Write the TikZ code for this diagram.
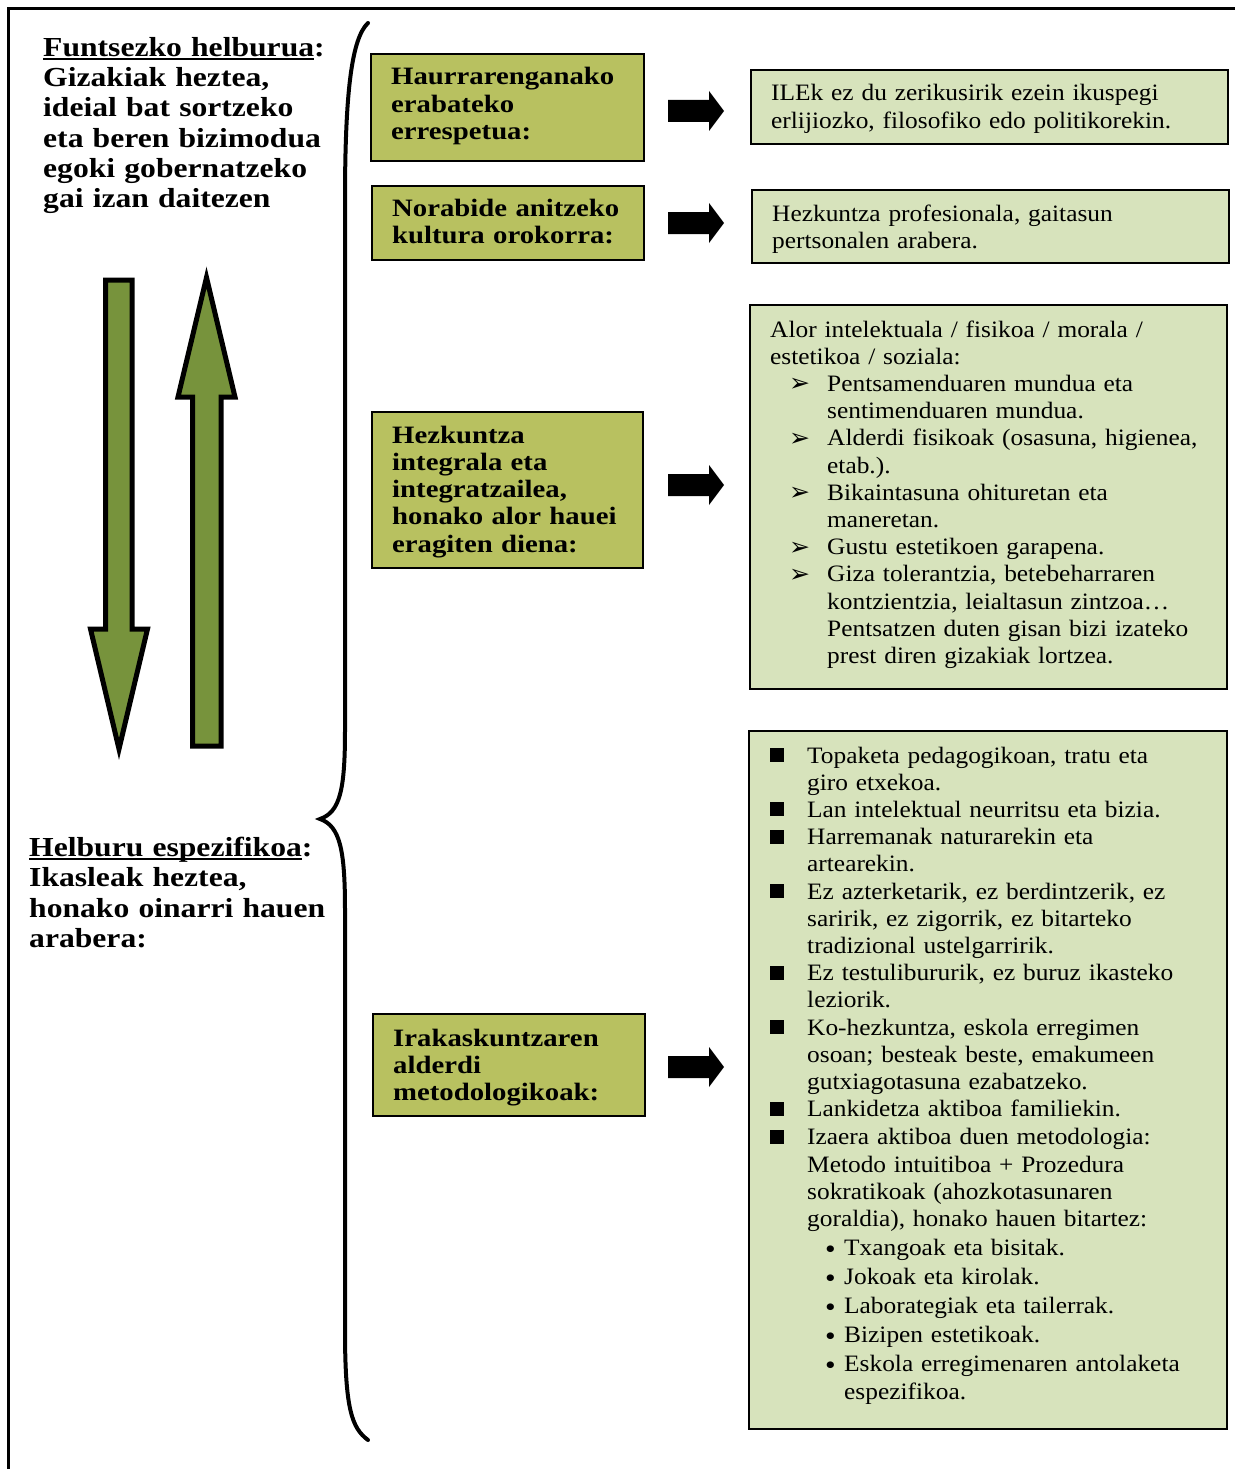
\documentclass[tikz,border=0pt]{standalone}
\usepackage{fontspec}
\setmainfont{Liberation Serif}[FakeStretch=1.08]
\newfontfamily\bfam{Liberation Serif}[FakeStretch=1.15]
\newfontfamily\symfont{DejaVu Sans}
\definecolor{olivebox}{HTML}{B8C160}
\definecolor{lightbox}{HTML}{D7E3BC}
\definecolor{arrowgreen}{HTML}{77933C}
\newsavebox\ulbox
\newcommand\myul[1]{\sbox\ulbox{#1}\rlap{\rule[-3.6pt]{\wd\ulbox}{2pt}}\usebox\ulbox}
% item body: #1 bullet offset, #2 text offset, #3 bullet, #4 text
\newcommand\itmbody[4]{\hangindent=#2pt\hangafter=1\noindent\hspace*{#1pt}\makebox[\dimexpr#2pt-#1pt\relax][l]{#3}#4\par}
\newcommand\itm[4]{\par\itmbody{#1}{#2}{#3}{#4}}
\newcommand\arrbul{\raisebox{-0.5pt}{\symfont\fontsize{25}{25}\selectfont ➢}}
\newcommand\sqbul{\raisebox{1pt}{\rule{14pt}{14pt}}}
\newcommand\dotbul{\raisebox{-3pt}{\fontsize{28}{28}\selectfont\textbullet}}
\begin{document}
\begin{tikzpicture}[x=1pt,y=-1pt,
  leftbox/.style={draw=black, line width=2pt, fill=olivebox, anchor=north west, inner sep=0pt, outer sep=0pt},
  rightbox/.style={draw=black, line width=2pt, fill=lightbox, anchor=north west, inner sep=0pt, outer sep=0pt},
  boldtext/.style={anchor=base west, inner sep=0pt, text width=#1, execute at begin node={\raggedright}, font=\bfam\bfseries\fontsize{25}{27.3}\selectfont},
  regtext/.style={anchor=base west, inner sep=0pt, text width=#1, execute at begin node={\raggedright}, font=\fontsize{23.5}{27.2}\selectfont},
  bigtext/.style={anchor=base west, inner sep=0pt, text width=#1, execute at begin node={\raggedright}, font=\bfam\bfseries\fontsize{27.5}{30.15}\selectfont},
  greenarrow/.style={fill=arrowgreen, draw=black, line width=5pt, line join=miter},
  blackarrow/.style={fill=black},
  brace/.style={draw=black, line width=4pt, line cap=round}
]
\useasboundingbox (0,0) rectangle (1234,1469);
% outer frame
\draw[line width=2.5pt] (8.5,1490) -- (8.5,8.5) -- (1250,8.5);

% left texts
\node[bigtext=330] (goal) at (43,56.7) {\myul{Funtsezko helburua}:\\Gizakiak heztea,\\ideial bat sortzeko\\eta beren bizimodua\\egoki gobernatzeko\\gai izan daitezen};
\node[bigtext=330] (spec) at (29,856.7) {\myul{Helburu espezifikoa}:\\Ikasleak heztea,\\honako oinarri hauen\\arabera:};

% green arrows
\draw[greenarrow] (105.5,280) -- (132,280) -- (132,629) -- (147.5,629) -- (119,749) -- (90.5,629) -- (105.5,629) -- cycle;
\draw[greenarrow] (192.5,746) -- (221,746) -- (221,397) -- (235,397) -- (206.5,277.5) -- (178,397) -- (192.5,397) -- cycle;

% brace
\draw[brace] (368,23) .. controls (352,38) and (345,90) .. (345,200)
  -- (345,730) .. controls (345,790) and (340,812) .. (320,819)
  .. controls (340,826) and (345,850) .. (345,910)
  -- (345,1330) .. controls (345,1410) and (352,1428) .. (368,1440);

% left boxes
\node[leftbox, minimum width=273, minimum height=107] (b1) at (371,54) {};
\node[leftbox, minimum width=272, minimum height=74] (b2) at (372,186) {};
\node[leftbox, minimum width=271, minimum height=156] (b3) at (372,412) {};
\node[leftbox, minimum width=272, minimum height=102] (b4) at (373,1014) {};
\node[boldtext=270] (b1t) at (391,85) {Haurrarenganako\\erabateko\\errespetua:};
\node[boldtext=270] (b2t) at (392,216) {Norabide anitzeko\\kultura orokorra:};
\node[boldtext=270] (b3t) at (392,443) {Hezkuntza\\integrala eta\\integratzailea,\\honako alor hauei\\eragiten diena:};
\node[boldtext=270] (b4t) at (393,1046) {Irakaskuntzaren\\alderdi\\metodologikoak:};

% right boxes
\node[rightbox, minimum width=477, minimum height=74] (r1) at (751,70) {};
\node[rightbox, minimum width=477, minimum height=73] (r2) at (752,190) {};
\node[rightbox, minimum width=477, minimum height=384] (r3) at (750,305) {};
\node[rightbox, minimum width=478, minimum height=698] (r4) at (749,731) {};
\node[regtext=470] (r1t) at (771,101) {ILEk ez du zerikusirik ezein ikuspegi\\erlijiozko, filosofiko edo politikorekin.};
\node[regtext=470] (r2t) at (772,221) {Hezkuntza profesionala, gaitasun\\pertsonalen arabera.};
\node[regtext=470] (r3t) at (770,337) {Alor intelektuala / fisikoa / morala /\newline estetikoa / soziala:%
\itm{19}{57}{\arrbul}{Pentsamenduaren mundua eta\newline sentimenduaren mundua.}%
\itm{19}{57}{\arrbul}{Alderdi fisikoak (osasuna, higienea,\newline etab.).}%
\itm{19}{57}{\arrbul}{Bikaintasuna ohituretan eta\newline maneretan.}%
\itm{19}{57}{\arrbul}{Gustu estetikoen garapena.}%
\itm{19}{57}{\arrbul}{Giza tolerantzia, betebeharraren\newline kontzientzia, leialtasun zintzoa…\newline Pentsatzen duten gisan bizi izateko\newline prest diren gizakiak lortzea.}};
\node[regtext=470] (r4t) at (770,763) {%
\itmbody{0}{37}{\sqbul}{Topaketa pedagogikoan, tratu eta\newline giro etxekoa.}%
\itm{0}{37}{\sqbul}{Lan intelektual neurritsu eta bizia.}%
\itm{0}{37}{\sqbul}{Harremanak naturarekin eta\newline artearekin.}%
\itm{0}{37}{\sqbul}{Ez azterketarik, ez berdintzerik, ez\newline saririk, ez zigorrik, ez bitarteko\newline tradizional ustelgarririk.}%
\itm{0}{37}{\sqbul}{Ez testulibururik, ez buruz ikasteko\newline leziorik.}%
\itm{0}{37}{\sqbul}{Ko-hezkuntza, eskola erregimen\newline osoan; besteak beste, emakumeen\newline gutxiagotasuna ezabatzeko.}%
\itm{0}{37}{\sqbul}{Lankidetza aktiboa familiekin.}%
\vspace{1pt}%
\itm{0}{37}{\sqbul}{Izaera aktiboa duen metodologia:\newline Metodo intuitiboa + Prozedura\newline sokratikoak (ahozkotasunaren\newline goraldia), honako hauen bitartez:}%
\vspace{1.5pt}\itm{55}{74}{\dotbul}{Txangoak eta bisitak.}%
\vspace{2pt}\itm{55}{74}{\dotbul}{Jokoak eta kirolak.}%
\vspace{2pt}\itm{55}{74}{\dotbul}{Laborategiak eta tailerrak.}%
\vspace{2pt}\itm{55}{74}{\dotbul}{Bizipen estetikoak.}%
\vspace{2pt}\itm{55}{74}{\dotbul}{Eskola erregimenaren antolaketa\newline espezifikoa.}};

% black block arrows
\coordinate (a1) at (668,111);
\coordinate (a2) at (668,223);
\coordinate (a3) at (668,485);
\coordinate (a4) at (668,1067);
\foreach \a in {a1,a2,a3,a4}{
  \fill[blackarrow] (\a) ++(0,-11) -- ++(41,0) -- ++(0,-9) -- ++(15,20) -- ++(-15,20) -- ++(0,-9) -- ++(-41,0) -- cycle;
}
\end{tikzpicture}
\end{document}
